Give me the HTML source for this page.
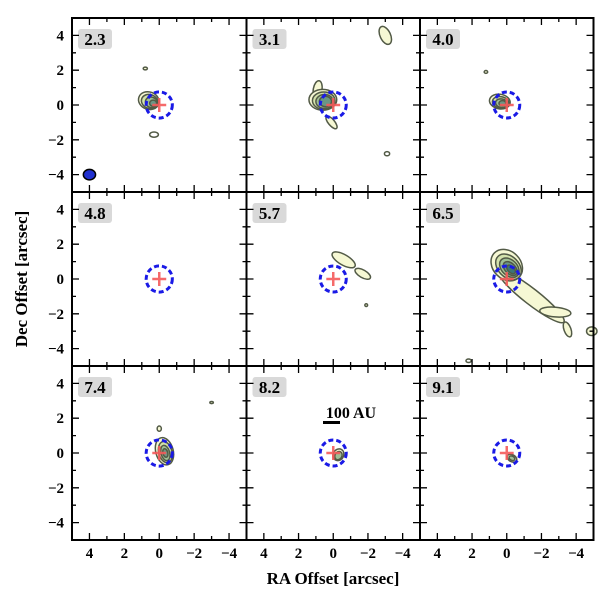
<!DOCTYPE html>
<html><head><meta charset="utf-8">
<style>
body{margin:0;background:#fff}
svg text{font-family:"Liberation Serif",serif;font-weight:bold}
</style></head>
<body>
<svg id="fig" width="600" height="594" viewBox="0 0 600 594" xmlns="http://www.w3.org/2000/svg">
<text x="0" y="0" transform="translate(27,279) rotate(-90)" text-anchor="middle" font-size="17">Dec Offset [arcsec]</text>
<text x="333" y="584" text-anchor="middle" font-size="17">RA Offset [arcsec]</text>
</svg>
<script>
const velocities=["2.3","3.1","4.0","4.8","5.7","6.5","7.4","8.2","9.1"];
const tickValues=[-4,-2,0,2,4];
const tickLabels=["\u22124","\u22122","0","2","4"];
const minorTicks=[-5,-3,-1,1,3,5];
// blobs per panel: [raOffset, decOffset, rxArcsec, ryArcsec, angleDeg(sky, counterclockwise), level]
const blobs0=[[0.8,2.1,0.12,0.08,0,0],[0.3,-1.7,0.25,0.15,0,-1],[0.6,0.25,0.6,0.5,-20,0],[0.55,0.2,0.48,0.4,-20,1],[0.45,0.15,0.35,0.3,-20,2],[0.35,0.1,0.2,0.18,0,3]];
const blobs1=[[-3.0,4.0,0.3,0.55,25,0],[0.9,0.9,0.25,0.5,-10,0],[0.6,0.3,0.8,0.6,0,0],[0.55,0.25,0.65,0.5,0,1],[0.5,0.2,0.5,0.4,0,2],[0.45,0.2,0.35,0.3,0,3],[0.1,-1.0,0.18,0.45,40,0],[-3.1,-2.8,0.15,0.12,0,-1]];
const blobs2=[[1.2,1.9,0.1,0.08,0,0],[0.4,0.2,0.6,0.42,-10,0],[0.35,0.15,0.48,0.33,-10,1],[0.3,0.1,0.35,0.25,-10,2],[0.25,0.1,0.2,0.15,0,3]];
const blobs3=[];
const blobs4=[[-0.6,1.1,0.75,0.3,-30,0],[-1.7,0.3,0.5,0.22,-30,0],[-1.9,-1.5,0.08,0.08,0,0]];
const blobs5=[[-1.4,-1.0,2.4,0.45,-38,0],[-2.8,-1.9,0.9,0.28,-5,0],[-3.5,-2.9,0.2,0.45,20,0],[-4.9,-3.0,0.3,0.25,0,0],[0.0,0.8,1.0,0.8,-45,0],[-0.1,0.7,0.85,0.6,-45,1],[-0.15,0.65,0.65,0.45,-45,2],[-0.2,0.6,0.48,0.3,-45,3],[-0.25,0.55,0.3,0.18,-45,4],[2.2,-4.7,0.15,0.1,0,-1]];
const blobs6=[[0.0,1.4,0.12,0.15,0,0],[-3.0,2.9,0.1,0.06,0,0],[-0.3,0.1,0.5,0.8,15,0],[-0.35,0.05,0.38,0.62,15,1],[-0.35,0.0,0.25,0.45,15,2],[-0.35,0.0,0.14,0.25,15,3]];
const blobs7=[[-0.3,-0.1,0.3,0.35,-30,0],[-0.3,-0.15,0.2,0.25,-30,2]];
const blobs8=[[-0.3,-0.3,0.3,0.2,-30,0],[-0.3,-0.3,0.18,0.12,-30,2]];
const allBlobs=[blobs0,blobs1,blobs2,blobs3,blobs4,blobs5,blobs6,blobs7,blobs8];
const beam=[4,-4,0.35,0.3];
const circleR=0.75;

const NS="http://www.w3.org/2000/svg";
const svg=document.getElementById('fig');
const colX=[72,246.5,420,593.5], rowY=[18,192,366,540];
const fills=["#f6f8d4","#d3e2ac","#9fbf95","#6a9685","#3c7576"];
function mk(t,a,p){const e=document.createElementNS(NS,t);for(const k in a)e.setAttribute(k,a[k]);(p||svg).appendChild(e);return e;}
for(let i=0;i<9;i++){
  const r=Math.floor(i/3),c=i%3;
  const x0=colX[c],x1=colX[c+1],y0=rowY[r],y1=rowY[r+1];
  const sx=(x1-x0)/10, sy=(y1-y0)/10;
  const X=v=>x0+(5-v)*sx, Y=v=>y0+(5-v)*sy;
  const g=mk('g',{});
  
  
  allBlobs[i].forEach(b=>{
    const e=mk('ellipse',{cx:X(b[0]),cy:Y(b[1]),rx:b[2]*sx,ry:b[3]*sy,transform:`rotate(${-b[4]} ${X(b[0])} ${Y(b[1])})`,fill:b[5]<0?'none':fills[b[5]],stroke:'#525a46','stroke-width':1.5},g);
    
    
  });
  const cir=mk('circle',{cx:X(0),cy:Y(0),r:circleR*sx,fill:'none',stroke:'#1a1ae6','stroke-width':3,'stroke-dasharray':'5 3'},g);
  
  
  const cr=mk('path',{d:`M${X(0.4)} ${Y(0)}H${X(-0.4)}M${X(0)} ${Y(0.4)}V${Y(-0.4)}`,stroke:'#f55a5a','stroke-width':2.5,opacity:0.9},g);
  
  
  if(i===0){
    const bm=mk('ellipse',{cx:X(beam[0]),cy:Y(beam[1]),rx:beam[2]*sx,ry:beam[3]*sy,fill:'#2030d0',stroke:'#000','stroke-width':1.5},g);
    
    
  }
  if(i===7){
    const sb=mk('rect',{x:323,y:421,width:17,height:3,fill:'#000'},g);
    
    
    const st=mk('text',{x:351,y:418,'text-anchor':'middle','font-size':16},g);
    st.textContent='100 AU';
    
    
  }
  const lb=mk('rect',{x:x0+6,y:y0+11,width:34,height:20,rx:3,fill:'#d9d9d9'},g);
  
  
  const lt=mk('text',{x:x0+23,y:y0+27,'text-anchor':'middle','font-size':17},g);
  lt.textContent=velocities[i];
  
  
  let d='';
  tickValues.forEach(v=>{d+=`M${X(v)} ${y0}v7M${X(v)} ${y1}v-7M${x0} ${Y(v)}h7M${x1} ${Y(v)}h-7`;});
  minorTicks.forEach(v=>{d+=`M${X(v)} ${y0}v4M${X(v)} ${y1}v-4M${x0} ${Y(v)}h4M${x1} ${Y(v)}h-4`;});
  const tk=mk('path',{d:d,stroke:'#000','stroke-width':1.3,fill:'none'},g);
  
  
  const fr=mk('rect',{x:x0,y:y0,width:x1-x0,height:y1-y0,fill:'none',stroke:'#000','stroke-width':2},g);
  
  
  if(c===0){tickValues.forEach((v,j)=>{const t=mk('text',{x:x0-8,y:Y(v)+5,'text-anchor':'end','font-size':15});t.textContent=tickLabels[j];
    
    });}
  if(r===2){tickValues.forEach((v,j)=>{const t=mk('text',{x:X(v),y:y1+18,'text-anchor':'middle','font-size':15});t.textContent=tickLabels[j];
    
    });}
}
</script>
</body></html>
